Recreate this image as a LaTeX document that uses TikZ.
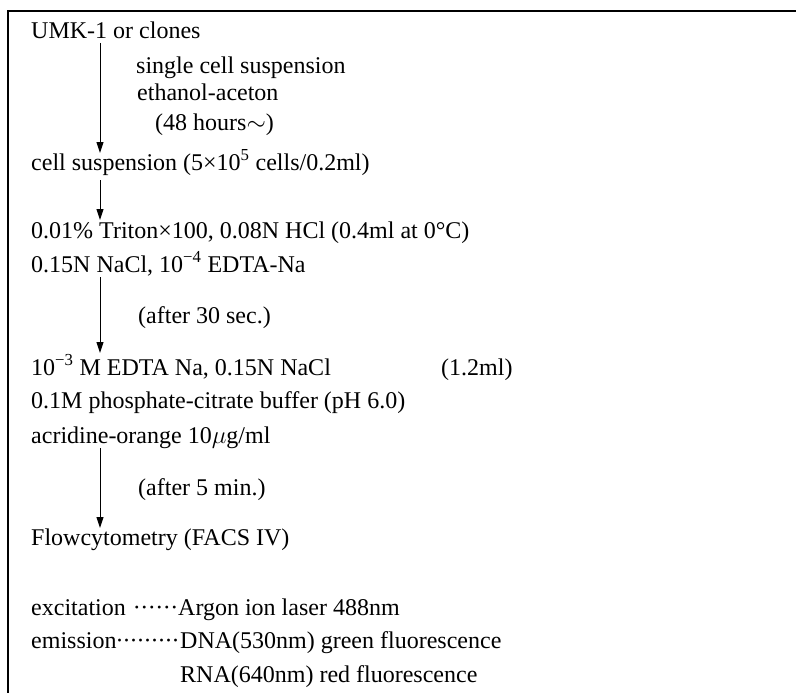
\documentclass[tikz,border=0pt]{standalone}
\usepackage{fontspec}
\setmainfont{Liberation Serif}
\usetikzlibrary{arrows.meta}
\newcommand{\dbox}[1]{\makebox[#1]{·}}
\begin{document}
\begin{tikzpicture}[x=1pt,y=-1pt,
  txt/.style={anchor=base west, inner sep=0pt, font=\fontsize{24}{28}\selectfont},
  flow/.style={line width=1pt, -{Triangle[length=11pt,width=7pt]}},
  frameline/.style={line width=1.3pt}]
\useasboundingbox (0,0) rectangle (796,693);
% frame (top and left only)
\draw[frameline] (796,11) -- (8,11) -- (8,693);

% texts
\node[txt] (t1)  at (31,39)  {UMK-1 or clones};
\node[txt] (t2)  at (136,74) {single cell suspension};
\node[txt] (t3)  at (137,100) {ethanol-aceton};
\node[txt] (t4)  at (155,131) {(48 hours$\sim$)};
\node[txt] (t5)  at (31,170) {cell suspension (5\texttimes10\textsuperscript{5} cells/0.2ml)};
\node[txt] (t6)  at (31,238) {0.01\% Triton\texttimes100, 0.08N HCl (0.4ml at 0°C)};
\node[txt] (t7)  at (31,272) {0.15N NaCl, 10\textsuperscript{−4} EDTA-Na};
\node[txt] (t8)  at (138,323) {(after 30 sec.)};
\node[txt] (t9)  at (31,375) {10\textsuperscript{−3} M EDTA Na, 0.15N NaCl};
\node[txt] (t9b) at (441,375) {(1.2ml)};
\node[txt] (t10) at (31,408) {0.1M phosphate-citrate buffer (pH 6.0)};
\node[txt] (t11) at (31,443) {acridine-orange 10$\mu$g/ml};
\node[txt] (t12) at (138,495) {(after 5 min.)};
\node[txt] (t13) at (31,545) {Flowcytometry (FACS IV)};
\node[txt] (t14) at (31,615) {excitation};
\node[txt] (d14) at (133,615) {\dbox{7.5pt}\dbox{7.5pt}\dbox{7.5pt}\dbox{7.5pt}\dbox{7.5pt}\dbox{7.5pt}};
\node[txt] (t14b) at (178,615) {Argon ion laser 488nm};
\node[txt] (t15) at (31,648) {emission};
\node[txt] (d15) at (116,648) {\dbox{7pt}\dbox{7pt}\dbox{7pt}\dbox{7pt}\dbox{7pt}\dbox{7pt}\dbox{7pt}\dbox{7pt}\dbox{7pt}};
\node[txt] (t15b) at (180,648) {DNA(530nm) green fluorescence};
\node[txt] (t16) at (180,682) {RNA(640nm) red fluorescence};

% arrow end points
\coordinate (a1s) at (100,43);  \coordinate (a1e) at (100,153);
\coordinate (a2s) at (100,180); \coordinate (a2e) at (100,220);
\coordinate (a3s) at (100,277); \coordinate (a3e) at (100,353);
\coordinate (a4s) at (100,448); \coordinate (a4e) at (100,528);
\draw[flow] (a1s) -- (a1e);
\draw[flow] (a2s) -- (a2e);
\draw[flow] (a3s) -- (a3e);
\draw[flow] (a4s) -- (a4e);
\end{tikzpicture}
\end{document}
